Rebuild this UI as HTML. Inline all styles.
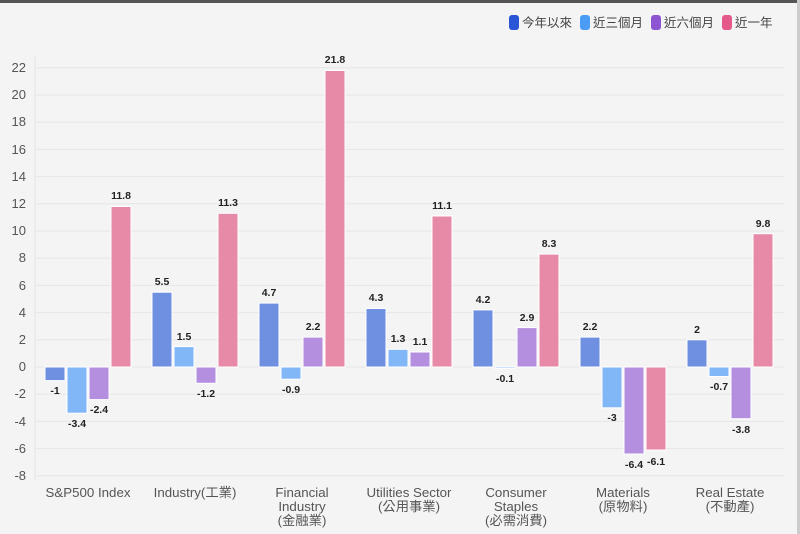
<!DOCTYPE html>
<html><head><meta charset="utf-8"><style>
html,body{margin:0;padding:0;background:#f4f4f4}
svg{display:block;font-family:"Liberation Sans","Noto Sans CJK TC",sans-serif}
.t{font-size:13px;fill:#555;text-anchor:end}
.v{font-size:10.5px;font-weight:bold;fill:#222;text-anchor:middle}
.x{font-size:13.3px;fill:#555;text-anchor:middle}
.l{font-size:12.5px;fill:#444}
</style></head><body>
<svg width="800" height="534" viewBox="0 0 800 534">
<rect width="800" height="534" fill="#f4f4f4"/>
<rect x="0" y="0" width="800" height="3" fill="#555"/>
<rect x="797" y="0" width="3" height="534" fill="#ccc"/>
<g stroke="#e6e6e6" stroke-width="1">
<line x1="35" x2="784" y1="475.8" y2="475.8"/><line x1="35" x2="784" y1="448.6" y2="448.6"/>
<line x1="35" x2="784" y1="421.4" y2="421.4"/><line x1="35" x2="784" y1="394.2" y2="394.2"/>
<line x1="35" x2="784" y1="367" y2="367"/><line x1="35" x2="784" y1="339.8" y2="339.8"/>
<line x1="35" x2="784" y1="312.6" y2="312.6"/><line x1="35" x2="784" y1="285.4" y2="285.4"/>
<line x1="35" x2="784" y1="258.2" y2="258.2"/><line x1="35" x2="784" y1="231" y2="231"/>
<line x1="35" x2="784" y1="203.8" y2="203.8"/><line x1="35" x2="784" y1="176.6" y2="176.6"/>
<line x1="35" x2="784" y1="149.4" y2="149.4"/><line x1="35" x2="784" y1="122.2" y2="122.2"/>
<line x1="35" x2="784" y1="95" y2="95"/><line x1="35" x2="784" y1="67.8" y2="67.8"/>
<line x1="35" x2="35" y1="55" y2="480"/>
</g>
<g class="t">
<text x="26" y="480">-8</text><text x="26" y="453">-6</text><text x="26" y="426">-4</text><text x="26" y="398">-2</text>
<text x="26" y="371">0</text><text x="26" y="344">2</text><text x="26" y="317">4</text><text x="26" y="290">6</text>
<text x="26" y="262">8</text><text x="26" y="235">10</text><text x="26" y="208">12</text><text x="26" y="181">14</text>
<text x="26" y="154">16</text><text x="26" y="126">18</text><text x="26" y="99">20</text><text x="26" y="72">22</text>
</g>
<g stroke="#fff" stroke-width="1">
<rect x="45" y="367" width="20" height="13.6" fill="#6f8fe0"/>
<rect x="67" y="367" width="20" height="46.2" fill="#82b7f7"/>
<rect x="89" y="367" width="20" height="32.6" fill="#b48fdf"/>
<rect x="111" y="206.5" width="20" height="160.5" fill="#e68aa8"/>
<rect x="152" y="292.2" width="20" height="74.8" fill="#6f8fe0"/>
<rect x="174" y="346.6" width="20" height="20.4" fill="#82b7f7"/>
<rect x="196" y="367" width="20" height="16.3" fill="#b48fdf"/>
<rect x="218" y="213.3" width="20" height="153.7" fill="#e68aa8"/>
<rect x="259" y="303.1" width="20" height="63.9" fill="#6f8fe0"/>
<rect x="281" y="367" width="20" height="12.2" fill="#82b7f7"/>
<rect x="303" y="337.1" width="20" height="29.9" fill="#b48fdf"/>
<rect x="325" y="70.5" width="20" height="296.5" fill="#e68aa8"/>
<rect x="366" y="308.5" width="20" height="58.5" fill="#6f8fe0"/>
<rect x="388" y="349.3" width="20" height="17.7" fill="#82b7f7"/>
<rect x="410" y="352" width="20" height="15" fill="#b48fdf"/>
<rect x="432" y="216" width="20" height="151" fill="#e68aa8"/>
<rect x="473" y="309.9" width="20" height="57.1" fill="#6f8fe0"/>
<rect x="495" y="367" width="20" height="1.4" fill="#82b7f7"/>
<rect x="517" y="327.6" width="20" height="39.4" fill="#b48fdf"/>
<rect x="539" y="254.1" width="20" height="112.9" fill="#e68aa8"/>
<rect x="580" y="337.1" width="20" height="29.9" fill="#6f8fe0"/>
<rect x="602" y="367" width="20" height="40.8" fill="#82b7f7"/>
<rect x="624" y="367" width="20" height="87" fill="#b48fdf"/>
<rect x="646" y="367" width="20" height="83" fill="#e68aa8"/>
<rect x="687" y="339.8" width="20" height="27.2" fill="#6f8fe0"/>
<rect x="709" y="367" width="20" height="9.5" fill="#82b7f7"/>
<rect x="731" y="367" width="20" height="51.7" fill="#b48fdf"/>
<rect x="753" y="233.7" width="20" height="133.3" fill="#e68aa8"/>
</g>
<g class="v">
<text x="55" y="394">-1</text><text x="77" y="427">-3.4</text><text x="99" y="413">-2.4</text><text x="121" y="199">11.8</text>
<text x="162" y="285">5.5</text><text x="184" y="340">1.5</text><text x="206" y="397">-1.2</text><text x="228" y="206">11.3</text>
<text x="269" y="296">4.7</text><text x="291" y="393">-0.9</text><text x="313" y="330">2.2</text><text x="335" y="63">21.8</text>
<text x="376" y="301">4.3</text><text x="398" y="342">1.3</text><text x="420" y="345">1.1</text><text x="442" y="209">11.1</text>
<text x="483" y="303">4.2</text><text x="505" y="382">-0.1</text><text x="527" y="321">2.9</text><text x="549" y="247">8.3</text>
<text x="590" y="330">2.2</text><text x="612" y="421">-3</text><text x="634" y="468">-6.4</text><text x="656" y="465">-6.1</text>
<text x="697" y="333">2</text><text x="719" y="390">-0.7</text><text x="741" y="433">-3.8</text><text x="763" y="227">9.8</text>
</g>
<g class="x">
<text x="88" y="497">S&amp;P500 Index</text>
<text x="195" y="497">Industry(工業)</text>
<text x="302" y="497">Financial</text><text x="302" y="511">Industry</text><text x="302" y="525">(金融業)</text>
<text x="409" y="497">Utilities Sector</text><text x="409" y="511">(公用事業)</text>
<text x="516" y="497">Consumer</text><text x="516" y="511">Staples</text><text x="516" y="525">(必需消費)</text>
<text x="623" y="497">Materials</text><text x="623" y="511">(原物料)</text>
<text x="730" y="497">Real Estate</text><text x="730" y="511">(不動產)</text>
</g>
<g>
<rect x="509" y="15" width="10" height="15" rx="3" fill="#2a55d6"/><text class="l" x="522" y="27">今年以來</text>
<rect x="580" y="15" width="10" height="15" rx="3" fill="#4a9cf5"/><text class="l" x="593" y="27">近三個月</text>
<rect x="651" y="15" width="10" height="15" rx="3" fill="#8e55d2"/><text class="l" x="664" y="27">近六個月</text>
<rect x="722" y="15" width="10" height="15" rx="3" fill="#e4588a"/><text class="l" x="735" y="27">近一年</text>
</g>
</svg>
</body></html>
